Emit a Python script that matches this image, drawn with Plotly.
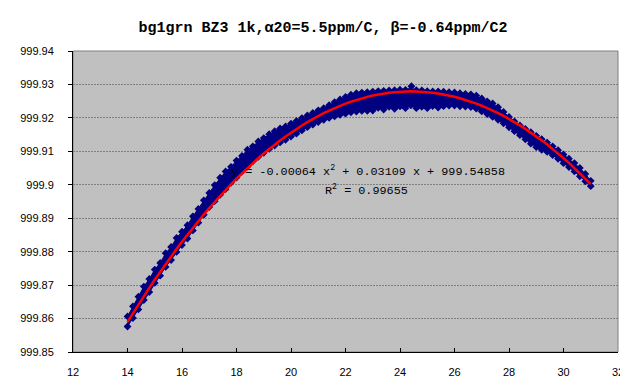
import numpy as np
import plotly.graph_objects as go

# ---- data ----
temp_c = [14.0, 14.2, 14.4, 14.6, 14.8, 15.0, 15.2, 15.4, 15.6, 15.8,
          16.0, 16.2, 16.4, 16.6, 16.8, 17.0, 17.2, 17.4, 17.6, 17.8,
          18.0, 18.2, 18.4, 18.6, 18.8, 19.0, 19.2, 19.4, 19.6, 19.8,
          20.0, 20.2, 20.4, 20.6, 20.8, 21.0, 21.2, 21.4, 21.6, 21.8,
          22.0, 22.2, 22.4, 22.6, 22.8, 23.0, 23.2, 23.4, 23.6, 23.8,
          24.0, 24.2, 24.4, 24.6, 24.8, 25.0, 25.2, 25.4, 25.6, 25.8,
          26.0, 26.2, 26.4, 26.6, 26.8, 27.0, 27.2, 27.4, 27.6, 27.8,
          28.0, 28.2, 28.4, 28.6, 28.8, 29.0, 29.2, 29.4, 29.6, 29.8,
          30.0, 30.2, 30.4, 30.6, 30.8, 31.0]

density_upper = [999.86063, 999.86366, 999.86653, 999.86955, 999.87182, 999.87465, 999.87661, 999.87953, 999.88140, 999.88412,
                 999.88598, 999.88790, 999.89056, 999.89278, 999.89534, 999.89755, 999.89991, 999.90212, 999.90398, 999.90538,
                 999.90724, 999.90864, 999.91050, 999.91150, 999.91295, 999.91396, 999.91511, 999.91601, 999.91685, 999.91745,
                 999.91830, 999.91909, 999.91994, 999.92073, 999.92147, 999.92227, 999.92291, 999.92380, 999.92474, 999.92552,
                 999.92626, 999.92695, 999.92738, 999.92757, 999.92770, 999.92788, 999.92801, 999.92809, 999.92822, 999.92830,
                 999.92843, 999.92840, 999.92843, 999.92830, 999.92823, 999.92800, 999.92792, 999.92789, 999.92781, 999.92768,
                 999.92760, 999.92737, 999.92718, 999.92705, 999.92666, 999.92582, 999.92494, 999.92430, 999.92321, 999.92177,
                 999.92027, 999.91893, 999.91774, 999.91669, 999.91570, 999.91465, 999.91365, 999.91261, 999.91151, 999.91036,
                 999.90905, 999.90780, 999.90650, 999.90504, 999.90324, 999.90118]

density_lower = [999.85763, 999.86016, 999.86273, 999.86555, 999.86792, 999.87065, 999.87281, 999.87543, 999.87750, 999.87992,
                 999.88198, 999.88390, 999.88636, 999.88868, 999.89104, 999.89335, 999.89511, 999.89702, 999.89868, 999.90058,
                 999.90214, 999.90394, 999.90540, 999.90700, 999.90835, 999.90956, 999.91071, 999.91171, 999.91265, 999.91345,
                 999.91440, 999.91529, 999.91624, 999.91723, 999.91797, 999.91877, 999.91941, 999.92000, 999.92044, 999.92092,
                 999.92126, 999.92165, 999.92188, 999.92207, 999.92210, 999.92218, 999.92301, 999.92249, 999.92332, 999.92270,
                 999.92343, 999.92290, 999.92373, 999.92290, 999.92333, 999.92290, 999.92352, 999.92309, 999.92351, 999.92368,
                 999.92370, 999.92347, 999.92338, 999.92325, 999.92276, 999.92192, 999.92114, 999.92030, 999.91941, 999.91837,
                 999.91717, 999.91603, 999.91484, 999.91359, 999.91230, 999.91125, 999.91045, 999.90981, 999.90891, 999.90776,
                 999.90645, 999.90530, 999.90400, 999.90254, 999.90104, 999.89958]

outlier_x = [24.42]
outlier_y = [999.92946]

# polynomial trendline coefficients (x^2, x, 1)
trend_coef = [-0.000637, 0.03109, 999.54858]

x_ticks = [12, 14, 16, 18, 20, 22, 24, 26, 28, 30, 32]
y_ticks = [999.85, 999.86, 999.87, 999.88, 999.89, 999.90, 999.91, 999.92, 999.93, 999.94]
y_tick_text = ["999.85", "999.86", "999.87", "999.88", "999.89", "999.9",
               "999.91", "999.92", "999.93", "999.94"]

title_text = "bg1grn BZ3 1k,α20=5.5ppm/C, β=-0.64ppm/C2"
eq_text = "y = -0.00064 x<sup>2</sup> + 0.03109 x + 999.54858"
r2_text = "R<sup>2</sup> = 0.99655"

NAVY = "#000080"
mono = "Liberation Mono"
sans = "Liberation Sans"

fig = go.Figure()

# band of measured points: lower edge, then upper edge filled down to it
fig.add_trace(go.Scatter(
    x=temp_c, y=density_lower, mode="lines+markers",
    line=dict(color=NAVY, width=1),
    marker=dict(symbol="diamond", size=6, color=NAVY, line=dict(width=0)),
    hoverinfo="skip"))
fig.add_trace(go.Scatter(
    x=temp_c, y=density_upper, mode="lines+markers", fill="tonexty",
    fillcolor=NAVY, line=dict(color=NAVY, width=1),
    marker=dict(symbol="diamond", size=6, color=NAVY, line=dict(width=0)),
    hoverinfo="skip"))
fig.add_trace(go.Scatter(
    x=outlier_x, y=outlier_y, mode="markers",
    marker=dict(symbol="diamond", size=6, color=NAVY, line=dict(width=0))))

# trendline
tx = np.array(temp_c)
ty = np.polyval(trend_coef, tx)
fig.add_trace(go.Scatter(x=tx, y=ty, mode="lines",
                         line=dict(color="#FF0000", width=2.5)))

fig.update_layout(
    width=628, height=382,
    margin=dict(l=64, r=12, t=43, b=36),
    paper_bgcolor="white", plot_bgcolor="#C0C0C0",
    showlegend=False,
    title=dict(text="<b>" + title_text + "</b>", x=0.5016, xanchor="center",
               y=1 - 19 / 382, yanchor="middle", yref="container",
               font=dict(family=mono, size=15, color="black")),
    shapes=[dict(type="rect", xref="paper", yref="paper", x0=0, x1=1, y0=0, y1=1,
                 line=dict(color="#808080", width=1), layer="below")],
    annotations=[
        dict(text=eq_text, xref="paper", yref="paper", x=0.286, y=0.602,
             xanchor="left", yanchor="middle", showarrow=False,
             font=dict(family=mono, size=11.8, color="black")),
        dict(text=r2_text, xref="paper", yref="paper", x=0.458, y=0.538,
             xanchor="left", yanchor="middle", showarrow=False,
             font=dict(family=mono, size=11.8, color="black")),
    ],
)

fig.update_xaxes(range=[12, 32], tickvals=x_ticks, ticks="inside", ticklen=4,
                 tickcolor="black", showline=True, linecolor="black", linewidth=1,
                 showgrid=False, zeroline=False, ticklabelstandoff=10,
                 tickfont=dict(family=sans, size=11, color="black"))
fig.update_yaxes(range=[999.85, 999.94], tickvals=y_ticks, ticktext=y_tick_text,
                 ticks="outside", ticklen=4, tickcolor="black",
                 showline=True, linecolor="black", linewidth=1,
                 showgrid=True, gridcolor="#808080", gridwidth=1, griddash="2px,1px",
                 zeroline=False, ticklabelstandoff=12,
                 tickfont=dict(family=sans, size=11, color="black"))

fig.write_html("out.html")
